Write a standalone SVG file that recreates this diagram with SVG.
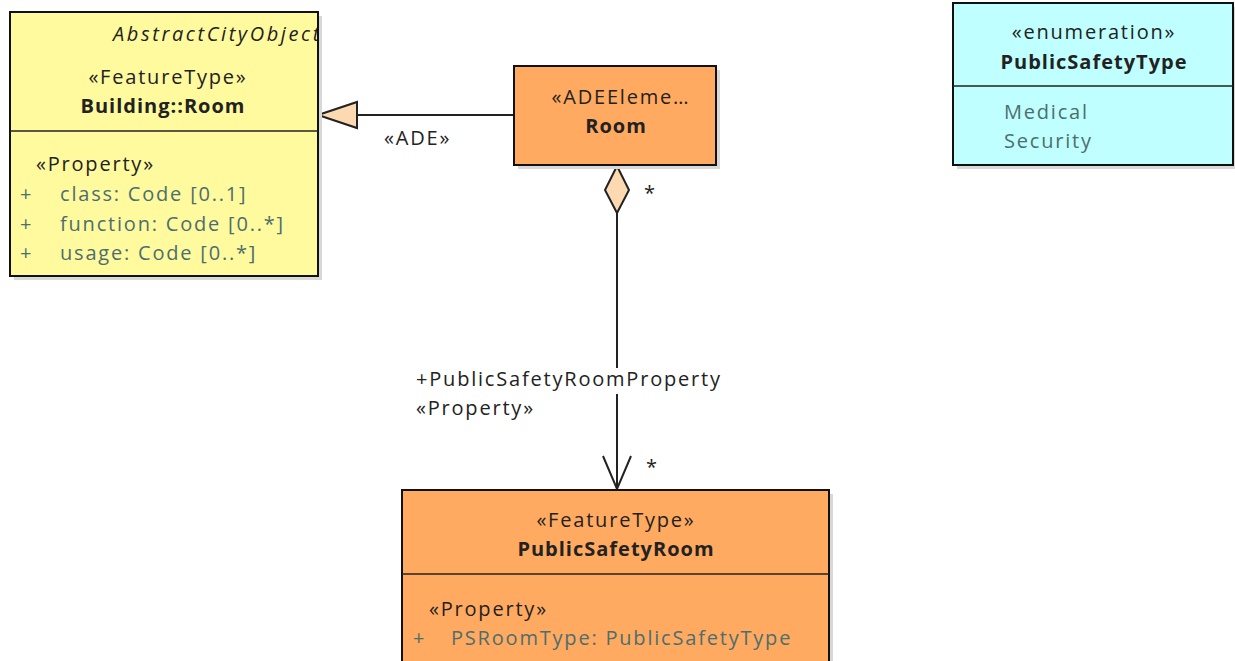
<svg xmlns="http://www.w3.org/2000/svg" width="1235" height="661" viewBox="0 0 1235 661">
<style>
text{font-family:"Open Sans","Liberation Sans",sans-serif;font-size:20px;fill:#222;letter-spacing:1.8px}
.b{font-weight:bold;letter-spacing:1px}
.it{font-style:italic;letter-spacing:2.6px}
.m{text-anchor:middle}
.att{fill:#4d6e6e}
.box{stroke:#111;stroke-width:2}
.sh{fill:#d8d8d8}
.sep{stroke:#222;stroke-width:1.5}
.ln{stroke:#222;stroke-width:2;fill:none}
</style>
<defs>
<clipPath id="cl1"><rect x="10" y="12" width="307" height="264"/></clipPath>
</defs>
<rect width="1235" height="661" fill="#fff"/>
<g id="connectors">
<line class="ln" x1="514" y1="115" x2="357" y2="115"/>
<polygon points="318,115 357,102 357,128" fill="#fcd9b0" stroke="#222" stroke-width="2"/>
<text x="384" y="145">«ADE»</text>
<line class="ln" x1="617" y1="213" x2="617" y2="368"/>
<line class="ln" x1="617" y1="394" x2="617" y2="489"/>
<polygon points="617,166 629,190 617,213 605,190" fill="#fcd9b0" stroke="#222" stroke-width="2"/>
<polyline class="ln" points="603,456 617,489 631,456"/>
<text x="644" y="200">*</text>
<text x="646" y="474">*</text>
<text x="416" y="386">+PublicSafetyRoomProperty</text>
<text x="416" y="415">«Property»</text>
</g>
<g id="building-room">
<rect class="sh" x="14" y="16" width="308" height="264"/>
<rect class="box" x="10" y="12" width="308" height="264" fill="#fffa9e"/>
<g clip-path="url(#cl1)">
<text class="it" x="113" y="41">AbstractCityObject</text>
</g>
<text class="m" x="168" y="84">«FeatureType»</text>
<text class="m b" x="163" y="113">Building::Room</text>
<line class="sep" x1="10" y1="131" x2="318" y2="131"/>
<text x="36" y="171">«Property»</text>
<text class="att" x="20" y="201">+</text>
<text class="att" x="60" y="201">class: Code [0..1]</text>
<text class="att" x="20" y="231">+</text>
<text class="att" x="60" y="231">function: Code [0..*]</text>
<text class="att" x="20" y="260">+</text>
<text class="att" x="60" y="260">usage: Code [0..*]</text>
</g>
<g id="room">
<rect class="sh" x="518" y="70" width="202" height="99"/>
<rect class="box" x="514" y="66" width="202" height="99" fill="#ffaa60"/>
<text class="m" x="621" y="104">«ADEEleme…</text>
<text class="m b" x="616" y="133">Room</text>
</g>
<g id="public-safety-type">
<rect class="sh" x="957" y="7" width="278" height="162"/>
<rect class="box" x="953" y="3" width="280" height="162" fill="#c0ffff"/>
<text class="m" x="1094" y="39">«enumeration»</text>
<text class="m b" x="1094" y="69">PublicSafetyType</text>
<line class="sep" x1="953" y1="86" x2="1233" y2="86"/>
<text class="att" x="1004" y="119">Medical</text>
<text class="att" x="1004" y="148">Security</text>
</g>
<g id="public-safety-room">
<rect class="sh" x="406" y="494" width="427" height="170"/>
<rect class="box" x="402" y="490" width="427" height="172" fill="#ffaa60"/>
<text class="m" x="616" y="527">«FeatureType»</text>
<text class="m b" x="616" y="556">PublicSafetyRoom</text>
<line class="sep" x1="402" y1="574" x2="829" y2="574"/>
<text x="429" y="616">«Property»</text>
<text class="att" x="413" y="645">+</text>
<text class="att" x="451" y="645">PSRoomType: PublicSafetyType</text>
</g>
</svg>
